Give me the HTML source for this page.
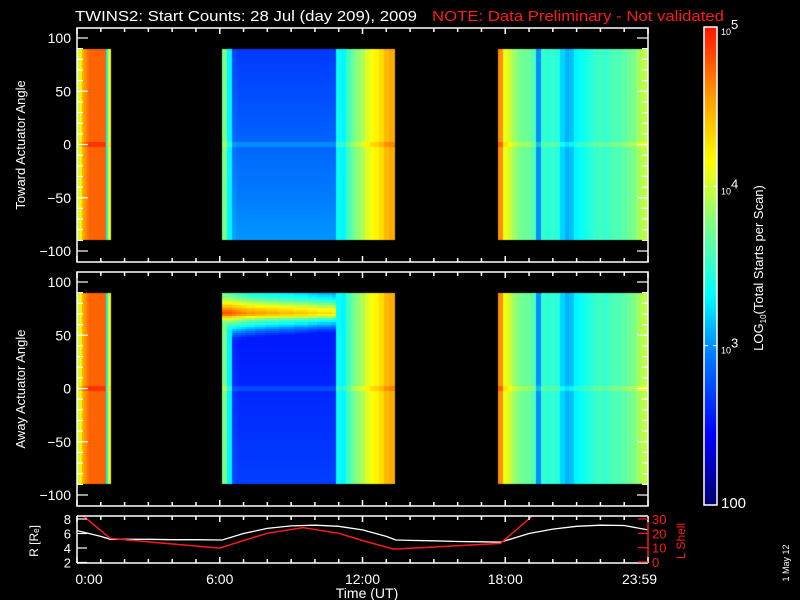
<!DOCTYPE html>
<html><head><meta charset="utf-8">
<style>
html,body{margin:0;padding:0;background:#000;}
#wrap{position:relative;width:800px;height:600px;overflow:hidden;background:#000;font-family:"Liberation Sans",sans-serif;}
canvas,svg{position:absolute;left:0;top:0;}
svg text{font-family:"Liberation Sans",sans-serif;}
</style></head>
<body>
<div id="wrap">
<canvas id="cv" width="800" height="600"></canvas>
<svg id="sv" width="800" height="600" xmlns="http://www.w3.org/2000/svg"></svg>
</div>
<script>
// ---- data ----
const segStarts = [0.0, 6.1, 17.7];
const segEnds = [1.45, 13.35, 24.0];
const segBinWidths = [0.1, 0.2, 0.2];
const seg1Values = [3.9,4.2,4.5,4.6,4.7,4.75,4.75,4.75,4.75,4.75,4.75,4.75,3.3,4.1,4.1];
const seg2Values = [3.75,3.3,2.9,2.85,2.85,2.85,2.85,2.85,2.85,2.85,2.85,2.85,2.85,2.85,2.85,2.85,2.85,2.85,2.85,2.85,2.85,2.85,2.85,2.85,3.35,3.3,3.55,3.7,3.8,3.9,4.05,4.15,4.2,4.3,4.45,4.5,4.5];
const seg3Values = [4.6,4.1,4.0,3.85,3.75,3.7,3.7,3.6,3.0,3.5,3.45,3.5,3.45,3.2,3.1,3.15,3.3,3.35,3.4,3.45,3.5,3.55,3.5,3.55,3.6,3.6,3.65,3.7,3.75,3.85,3.95,3.95];
const segValues = [seg1Values, seg2Values, seg3Values];
const topBlueTilt = 0.35;
const botBlueOffset = -0.25;
const botBlueTilt = 0.2;
// bottom-panel band near +72 deg during 6.1-10.9h
const bandAngles = [90,85,80,75,70,65,60,55,50,45];
const bandLevels = [3.4,3.6,3.95,4.4,4.65,3.85,3.4,3.0,2.7,2.4];
const bandShift = [0.2,0.2,0.15,0.1,0.05,0,0,-0.05,-0.05,-0.1,-0.1,-0.1,-0.15,-0.15,-0.15,-0.2,-0.2,-0.2,-0.25,-0.25,-0.3,-0.3,-0.3,-0.35];
const zeroLineBoost = 0.15;
// orbit panel
const rHours = [0,1,1.4,2,3,4,5,6.1,7,8,9,10,11,12,13,13.4,14,15,16,17,17.8,19,20,21,22,23,24];
const rValues = [6.4,5.6,5.2,5.2,5.2,5.15,5.15,5.1,6.0,6.7,7.05,7.15,7.0,6.5,5.6,5.1,5.05,5.0,4.9,4.85,4.8,6.0,6.6,7.0,7.15,7.1,6.5];
const lHours = [0.2,1.4,3,6.0,7,8,9.5,11,12,13.3,15,17.8,19.2];
const lValues = [33,16.5,14,9.7,15,20,24,20,15,9,10.5,13,33];
const cbTickVals = [5,4,3,2];

// ---- scales ----
const X0=77, X1=648;
const xOf = h => X0 + h*(X1-X0)/24;
const yAng = (a, panel) => 144.5 - a*1.065 + panel*244;
const yR = r => 519 + (8-r)*7.25;
const yL = l => 519 + (30-l)*(43/30);
const CB_Y0=505, CB_Y1=27;
const yCb = v => CB_Y0 - (v-2)/3*(CB_Y0-CB_Y1);

const stops=[[0,[0,0,110]],[0.15,[0,0,255]],[0.32,[0,128,255]],[0.44,[0,255,255]],[0.57,[110,255,150]],[0.66,[200,255,60]],[0.72,[255,255,0]],[0.85,[255,160,0]],[1,[255,20,0]]];
function cmap(v){
  let t=(v-2)/3; t=Math.max(0,Math.min(1,t));
  for(let i=1;i<stops.length;i++){ if(t<=stops[i][0]){const a=stops[i-1],b=stops[i];const f=(t-a[0])/(b[0]-a[0]);
    return 'rgb('+[0,1,2].map(k=>Math.round(a[1][k]+(b[1][k]-a[1][k])*f)).join(',')+')';}}
  return 'rgb(255,20,0)';
}
function interp(xs,ys,x){if(x<=xs[0])return ys[0];for(let i=1;i<xs.length;i++){if(x<=xs[i]){const f=(x-xs[i-1])/(xs[i]-xs[i-1]);return ys[i-1]+(ys[i]-ys[i-1])*f;}}return ys[ys.length-1];}

// ---- heatmap ----
const ctx=document.getElementById('cv').getContext('2d');
for(let panel=0;panel<2;panel++){
  for(let s=0;s<3;s++){
    const vals=segValues[s], bw=segBinWidths[s];
    for(let i=0;i<vals.length;i++){
      const h0=segStarts[s]+i*bw; if(h0>=segEnds[s]) break;
      const h1=Math.min(h0+bw,segEnds[s]);
      const xa=Math.round(xOf(h0)), xb=Math.round(xOf(h1));
      for(let a=90;a>-90;a-=2){
        const am=a-1;
        let v=vals[i];
        const blue = (s===1 && vals[i]<3.0);
        if(blue){
          if(panel===0) v += topBlueTilt*(-am/90)/2;
          else v += botBlueOffset + botBlueTilt*(-am/90)/2;
        }
        if(panel===1 && s===1 && i<bandShift.length && am>=45){
          const bv=interp(bandAngles.slice().reverse(),bandLevels.slice().reverse(),am)+bandShift[i];
          v=Math.max(v,bv);
        }
        if(Math.abs(am)<2) v+=zeroLineBoost;
        ctx.fillStyle=cmap(v);
        const ya=Math.round(yAng(a,panel)), yb=Math.round(yAng(a-2,panel));
        ctx.fillRect(xa,ya,xb-xa,yb-ya);
      }
    }
  }
}
for(let y=CB_Y1;y<CB_Y0;y++){
  const v=2+(CB_Y0-y)/(CB_Y0-CB_Y1)*3;
  ctx.fillStyle=cmap(v); ctx.fillRect(704,y,13,1);
}

// ---- SVG overlay ----
const NS='http://www.w3.org/2000/svg';
const sv=document.getElementById('sv');
function el(tag,attrs,parent){const e=document.createElementNS(NS,tag);for(const k in attrs)e.setAttribute(k,attrs[k]);(parent||sv).appendChild(e);return e;}
function txt(s,attrs,parent){const e=el('text',attrs,parent);e.textContent=s;return e;}

const title=txt('TWINS2: Start Counts: 28 Jul (day 209), 2009',{x:75,y:21,fill:'#fff','font-size':15,textLength:342,lengthAdjust:'spacingAndGlyphs'});


const note=txt('NOTE: Data Preliminary - Not validated',{x:432,y:21,fill:'#ff1a1a','font-size':15,textLength:292,lengthAdjust:'spacingAndGlyphs'});



const panelNames=['toward-panel','away-panel'];
const ylabels=['Toward Actuator Angle','Away Actuator Angle'];
for(let p=0;p<2;p++){
  const top=28+p*244, bot=262+p*244;
  const g=el('g',{});
  
  
  el('rect',{x:X0,y:top,width:X1-X0,height:bot-top,fill:'none',stroke:'#fff','stroke-width':1.5},g);
  for(let h=0;h<=24;h++){
    const x=xOf(h), L=(h%6===0)?6:4;
    el('line',{x1:x,y1:top,x2:x,y2:top+L,stroke:'#fff','stroke-width':1.5},g);
    el('line',{x1:x,y1:bot,x2:x,y2:bot-L,stroke:'#fff','stroke-width':1.5},g);
  }
  for(let a=-100;a<=100;a+=10){
    const y=yAng(a,p), L=(a%50===0)?11:6;
    el('line',{x1:X0,y1:y,x2:X0+L,y2:y,stroke:'#fff','stroke-width':1.2},g);
    el('line',{x1:X1,y1:y,x2:X1-L,y2:y,stroke:'#fff','stroke-width':1.2},g);
    if(a%50===0){
      const lab=txt(a<0?'\u2212'+(-a):String(a),{x:71,y:y+5,fill:'#fff','font-size':14,'text-anchor':'end'},g);
      
      
    }
  }
  const yl=txt(ylabels[p],{x:0,y:0,fill:'#fff','font-size':13,'text-anchor':'middle',transform:'translate(25,'+(145+p*244)+') rotate(-90)'},g);
  
  
}

const og=el('g',{});


el('clipPath',{id:'oc'},og); el('rect',{x:X0,y:516,width:X1-X0,height:48},document.getElementById('oc'));
let d='';
rHours.forEach((h,i)=>{d+=(i?'L':'M')+xOf(h).toFixed(1)+' '+yR(rValues[i]).toFixed(1);});
const rl=el('path',{d:d,fill:'none',stroke:'#fff','stroke-width':1.3,'clip-path':'url(#oc)'},og);


d='';
lHours.forEach((h,i)=>{d+=(i?'L':'M')+xOf(h).toFixed(1)+' '+yL(lValues[i]).toFixed(1);});
const ll=el('path',{d:d,fill:'none',stroke:'#ff1a1a','stroke-width':1.5,'clip-path':'url(#oc)'},og);


el('line',{x1:X0,y1:516,x2:X1,y2:516,stroke:'#fff','stroke-width':1.5},og);
el('line',{x1:X0,y1:563,x2:X1,y2:563,stroke:'#fff','stroke-width':1.5},og);
el('line',{x1:X0,y1:516,x2:X0,y2:563,stroke:'#fff','stroke-width':1.5},og);
el('line',{x1:X1,y1:516,x2:X1,y2:563,stroke:'#ff1a1a','stroke-width':1.5},og);
for(let h=0;h<=24;h++){
  const x=xOf(h), L=(h%6===0)?6:4;
  el('line',{x1:x,y1:516,x2:x,y2:516+L,stroke:'#fff','stroke-width':1.5},og);
  el('line',{x1:x,y1:563,x2:x,y2:563-L,stroke:'#fff','stroke-width':1.5},og);
}
[2,4,6,8].forEach(r=>{
  el('line',{x1:X0,y1:yR(r),x2:X0+10,y2:yR(r),stroke:'#fff','stroke-width':1.2},og);
  const t=txt(String(r),{x:71,y:yR(r)+5,fill:'#fff','font-size':13,'text-anchor':'end'},og);
  
  
});
[0,10,20,30].forEach(l=>{
  el('line',{x1:X1,y1:yL(l),x2:X1-10,y2:yL(l),stroke:'#ff1a1a','stroke-width':1.2},og);
  const t=txt(String(l),{x:652,y:yL(l)+5,fill:'#ff1a1a','font-size':13},og);
  
  
});
const rt=txt('R [R\u2091]',{x:0,y:0,fill:'#fff','font-size':12,'text-anchor':'middle',transform:'translate(38,541) rotate(-90)'},og);


const lt=txt('L Shell',{x:0,y:0,fill:'#ff1a1a','font-size':12,'text-anchor':'middle',transform:'translate(685,541) rotate(-90)'},og);


[['0:00',0],['6:00',6],['12:00',12],['18:00',18],['23:59',23.98]].forEach(([s,h])=>{
  const t=txt(s,{x:xOf(h)+(h===0?12:(h>23?-8:0)),y:584,fill:'#fff','font-size':14,'text-anchor':'middle'},og);
  
  
});
const xt=txt('Time (UT)',{x:367,y:598,fill:'#fff','font-size':14,'text-anchor':'middle'},og);



const cg=el('g',{});


el('rect',{x:704,y:CB_Y1,width:13,height:CB_Y0-CB_Y1,fill:'none',stroke:'#fff','stroke-width':1.5},cg);
cbTickVals.forEach(v=>{
  const y=yCb(v);
  if(v>2&&v<5){el('line',{x1:704,y1:y,x2:708,y2:y,stroke:'#fff'},cg);el('line',{x1:713,y1:y,x2:717,y2:y,stroke:'#fff'},cg);}
  let t;
  if(v===2){t=txt('100',{x:721,y:y+3,fill:'#fff','font-size':15},cg);}
  else{t=txt('',{x:721,y:y+8,fill:'#fff','font-size':9},cg);
    const a=el('tspan',{},t);a.textContent='10';
    const b=el('tspan',{dy:-6,'font-size':13},t);b.textContent=String(v);}
  
  
});
const ct=txt('',{x:0,y:0,fill:'#fff','font-size':13,'text-anchor':'middle',transform:'translate(763,268) rotate(-90)'},cg);


const c1=el('tspan',{},ct);c1.textContent='LOG';
const c2=el('tspan',{'font-size':8,dy:3},ct);c2.textContent='10';
const c3=el('tspan',{dy:-3},ct);c3.textContent='(Total Starts per Scan)';

const dt=txt('1 May 12',{x:0,y:0,fill:'#fff','font-size':9,'text-anchor':'middle',transform:'translate(789,563) rotate(-90)'});


</script>
</body></html>
